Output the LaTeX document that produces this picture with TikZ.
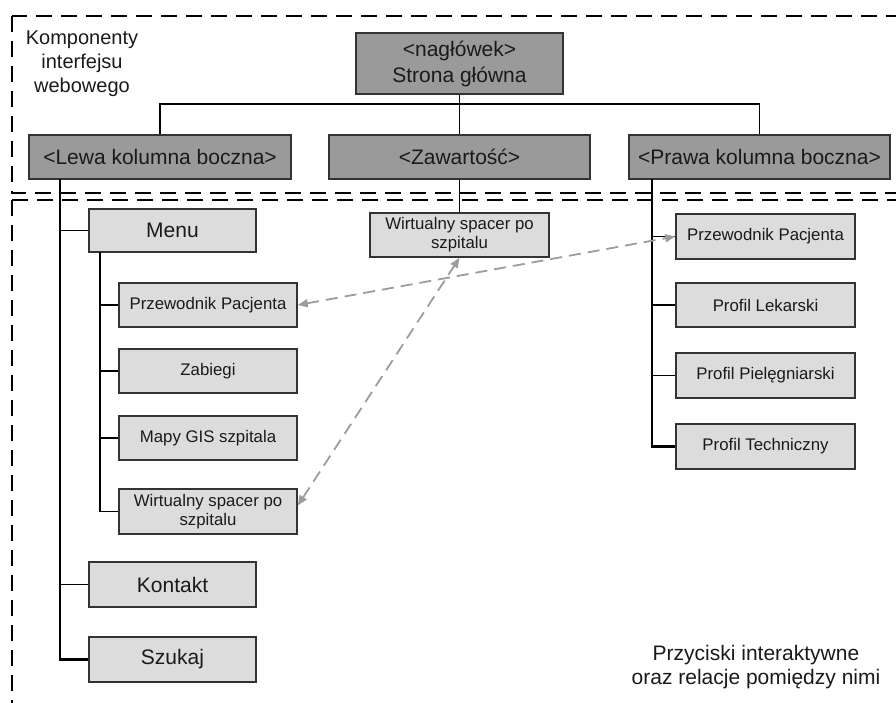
\documentclass[tikz,border=0pt]{standalone}
\usepackage{fontspec}
\setmainfont{Liberation Sans}
\usetikzlibrary{arrows.meta}
\definecolor{edge}{HTML}{333333}
\definecolor{darkfill}{HTML}{9A9A9A}
\definecolor{lightfill}{HTML}{DCDCDC}
\definecolor{relgray}{HTML}{9C9C9C}
\definecolor{ink}{HTML}{1A1A1A}
\begin{document}
\begin{tikzpicture}[x=1pt,y=-1pt,
  bigtext/.style={font=\fontsize{21}{26}\selectfont},
  smalltext/.style={font=\fontsize{16.8}{19}\selectfont},
  region/.style={draw=black, line width=2.8pt, dash pattern=on 16pt off 9pt},
  section/.style={draw=edge, fill=darkfill, line width=1.6pt, text=ink, bigtext,
    minimum width=261pt, minimum height=44pt, inner sep=0pt},
  bigbtn/.style={draw=edge, fill=lightfill, line width=1.6pt, text=ink, bigtext,
    minimum width=167pt, minimum height=44pt, inner sep=0pt},
  smallbtn/.style={draw=edge, fill=lightfill, line width=1.6pt, text=ink, smalltext,
    minimum width=178pt, minimum height=44pt, inner sep=0pt, align=center},
  tree/.style={draw=black, line width=1.5pt},
  trunk/.style={draw=black, line width=2.2pt},
  rel/.style={draw=relgray, line width=1.8pt, dash pattern=on 12pt off 7pt,
    {Triangle[length=10pt,width=8pt]}-{Triangle[length=10pt,width=8pt]}}
]
\useasboundingbox (0,0) rectangle (896,703);
\clip (0,0) rectangle (896,703);

% dashed regions
\draw[region] (12,16) rectangle (930,193);
\draw[region] (12,200) rectangle (930,740);

% region captions
\node[align=center, text=ink, font=\fontsize{20}{24}\selectfont] (cap1) at (82,64)
  {Komponenty\\interfejsu\\webowego};
\node[align=center, text=ink, font=\fontsize{21}{24}\selectfont] (cap2) at (756,667)
  {Przyciski interaktywne\\oraz relacje pomiędzy nimi};

% page sections
\node[section, minimum width=207pt, minimum height=61pt, align=center] (head) at (459.5,63.5)
  {<nagłówek>\\Strona główna};
\node[section, minimum width=262pt] (lewa) at (160,157) {<Lewa kolumna boczna>};
\node[section] (zaw) at (459.5,157) {<Zawartość>};
\node[section] (prawa) at (759.5,157) {<Prawa kolumna boczna>};

% left column
\node[bigbtn, minimum height=43pt] (menu) at (172.5,230.5) {Menu};
\node[smallbtn] (lp1) at (208,305) {Przewodnik Pacjenta};
\node[smallbtn] (lp2) at (208,371) {Zabiegi};
\node[smallbtn] (lp3) at (208,438) {Mapy GIS szpitala};
\node[smallbtn, minimum height=45pt] (lp4) at (208,511.5) {Wirtualny spacer po\\szpitalu};
\node[bigbtn, minimum height=45pt] (kontakt) at (172.5,584.5) {Kontakt};
\node[bigbtn, minimum height=45pt] (szukaj) at (172.5,659.5) {Szukaj};

% content
\node[smallbtn, minimum width=179pt] (zw) at (459.5,235) {Wirtualny spacer po\\szpitalu};

% right column
\node[smallbtn, minimum width=179pt, minimum height=45pt] (rp1) at (765.5,236.5) {Przewodnik Pacjenta};
\node[smallbtn, minimum width=179pt] (rp2) at (765.5,305) {Profil Lekarski};
\node[smallbtn, minimum width=179pt, minimum height=45pt] (rp3) at (765.5,375.5) {Profil Pielęgniarski};
\node[smallbtn, minimum width=179pt, minimum height=45pt] (rp4) at (765.5,446.5) {Profil Techniczny};

% trunk start points
\coordinate (lt) at (60,179);
\coordinate (mt) at (100,252);
\coordinate (rt) at (652,179);

% header tree
\draw[tree] (lewa.north) -- ++(0,-30) -| (prawa.north);
\draw[tree] (head.south) -- (zaw.north);
\draw[tree] (zaw.south) -- (zw.north);

% left column tree
\draw[trunk] (lt) |- (szukaj.west);
\draw[tree] (lt |- menu.west) -- (menu.west);
\draw[tree] (lt |- kontakt.west) -- (kontakt.west);
\draw[tree] (mt) |- (lp4.west);
\draw[tree] (mt |- lp1.west) -- (lp1.west);
\draw[tree] (mt |- lp2.west) -- (lp2.west);
\draw[tree] (mt |- lp3.west) -- (lp3.west);

% right column tree
\draw[trunk] (rt) |- (rp4.west);
\draw[tree] (rt |- rp1.west) -- (rp1.west);
\draw[tree] (rt |- rp2.west) -- (rp2.west);
\draw[tree] (rt |- rp3.west) -- (rp3.west);

% relations between buttons
\draw[rel] (lp1.east) -- (rp1.west);
\draw[rel] ([yshift=6pt]lp4.east) -- (zw.south);
\end{tikzpicture}
\end{document}
